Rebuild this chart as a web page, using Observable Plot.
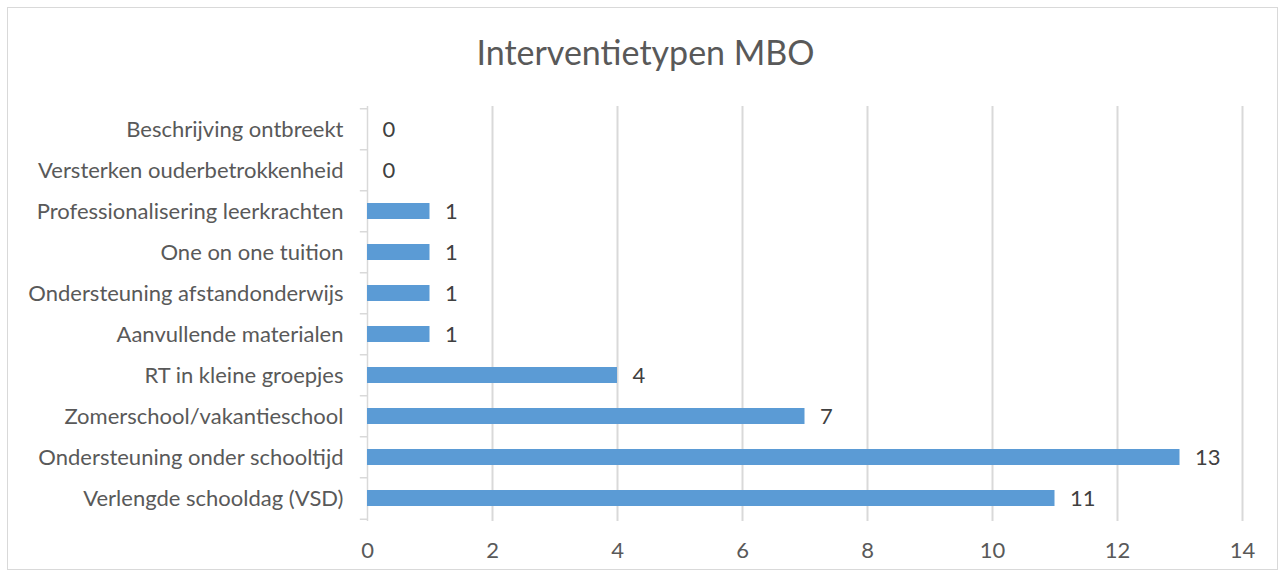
<!DOCTYPE html>
<html><head><meta charset="utf-8">
<script src="https://cdn.jsdelivr.net/npm/d3@7"></script>
<script src="https://cdn.jsdelivr.net/npm/@observablehq/plot@0.6"></script>
<style>
body{margin:0;background:#fff;}
#wrap{position:relative;width:1287px;height:579px;overflow:hidden;font-family:Lato,sans-serif;}
#frame{position:absolute;left:7px;top:7px;width:1271px;height:563px;border:1px solid #d9d9d9;box-sizing:border-box;}
#title{position:absolute;left:2px;width:1287px;top:30px;text-align:center;font-size:34px;line-height:44px;color:#595959;}
#chart{position:absolute;left:0;top:0;}
</style></head><body>
<div id="wrap"><div id="frame"></div><div id="title">Interventietypen MBO</div><div id="chart"></div></div>
<script>
const categories = [
  "Beschrijving ontbreekt",
  "Versterken ouderbetrokkenheid",
  "Professionalisering leerkrachten",
  "One on one tuition",
  "Ondersteuning afstandonderwijs",
  "Aanvullende materialen",
  "RT in kleine groepjes",
  "Zomerschool/vakantieschool",
  "Ondersteuning onder schooltijd",
  "Verlengde schooldag (VSD)"
];
const values = [0, 0, 1, 1, 1, 1, 4, 7, 13, 11];
const xTicks = [0, 2, 4, 6, 8, 10, 12, 14];

const data = categories.map((c, i) => ({category: c, value: values[i]}));
const W = 1287, H = 579, mt = 106, mb = 58, ml = 367, mr = 45;
const step = (H - mt - mb) / categories.length;

const chart = Plot.plot({
  width: W, height: H,
  marginTop: mt, marginBottom: mb, marginLeft: ml, marginRight: mr,
  style: {fontFamily: "Lato, sans-serif", fontSize: "22px", color: "#595959", background: "transparent", overflow: "visible"},
  x: {domain: [0, 14], ticks: xTicks, tickSize: 0, tickPadding: 21, label: null},
  y: {domain: categories, paddingInner: 0.6, paddingOuter: 0.3, tickSize: 0, tickPadding: 24, label: null},
  marks: [
    Plot.ruleX(xTicks.slice(1), {stroke: "#d9d9d9", strokeWidth: 2, strokeOpacity: 1}),
    Plot.ruleX([0], {stroke: "#d9d9d9", strokeWidth: 1.5, strokeOpacity: 1}),
    Plot.ruleY(categories, {y: d => d, x1: -0.115, x2: 0, dy: -step / 2, stroke: "#d9d9d9", strokeWidth: 1.5}),
    Plot.ruleY([categories[categories.length - 1]], {y: d => d, x1: -0.115, x2: 0, dy: step / 2, stroke: "#d9d9d9", strokeWidth: 1.5}),
    Plot.barX(data, {x: "value", y: "category", fill: "#5b9bd5"}),
    Plot.text(data, {x: "value", y: "category", text: d => String(d.value), textAnchor: "start", dx: 15, fill: "#404040", fontSize: 22})
  ]
});
document.getElementById("chart").appendChild(chart);
</script>
</body></html>
